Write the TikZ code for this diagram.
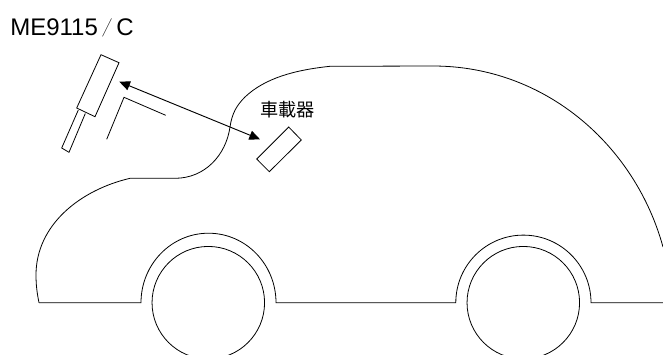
\documentclass[tikz,border=0pt]{standalone}
\usepackage{fontspec}
\usetikzlibrary{arrows.meta}
\setmainfont{Liberation Sans}
\newfontfamily\cjkfont{Noto Sans CJK JP}
\newfontfamily\slashfont[FakeStretch=0.5]{Noto Sans CJK JP}
\tikzset{
  outline/.style={draw=black,line width=0.6pt,line join=miter},
  label/.style={inner sep=0pt,anchor=west,text=black},
}
\begin{document}
\begin{tikzpicture}[x=0.75pt,y=-0.75pt]
\useasboundingbox (0,0) rectangle (663,354);
\clip (0,0) rectangle (663,354);
% car body
\draw[outline] (39,302.7) .. controls (37,293) and (36,285) .. (36,275)
  .. controls (36,225) and (80,190) .. (130,178.3)
  -- (175,178.3)
  .. controls (205,178.3) and (226,155) .. (230,127)
  .. controls (232,113) and (237,105) .. (245,97)
  .. controls (265,78) and (295,70) .. (330,66.3)
  -- (433,66)
  .. controls (545,66) and (635,145) .. (663,247);
\draw[outline] (39,302.7) -- (141,302.7) arc[start angle=180,end angle=360,x radius=67.5,y radius=69.5] -- (455.8,302.7)
  arc[start angle=180,end angle=360,radius=67.6] -- (663,302.7);
% wheels
\node[outline,circle,minimum size=84.4pt,inner sep=0pt] (wheelL) at (208.3,302.7) {};
\node[outline,circle,minimum size=84.4pt,inner sep=0pt] (wheelR) at (523.3,302.7) {};
% handheld
\draw[outline] (101,54.7) -- (119,62.7) -- (95,116.7) -- (76.7,108) -- cycle;
\draw[outline] (78.3,110) -- (61.7,148) -- (69,152.3) -- (85.3,113.5);
\draw[outline] (106.7,139.3) -- (124,97.3) -- (165.7,115.3);
% on-board unit
\draw[outline] (288.7,127) -- (301.3,140) -- (269.3,171.7) -- (256.7,159) -- cycle;
% arrow
\coordinate (handset) at (119.3,81.7);
\coordinate (unit) at (260,139.3);
\draw[line width=0.7pt,{Triangle[length=8pt,width=7pt]}-{Triangle[length=8pt,width=7pt]}] (handset) -- (unit);
% text
\node[label,font=\fontsize{18pt}{20pt}\selectfont] (model) at (10,27.5) {ME9115\hspace{3.2pt}{\slashfont\fontsize{15pt}{18pt}\selectfont ／}\hspace{3.2pt}C};
\node[label,font=\cjkfont\fontsize{13.6pt}{15pt}\selectfont] (obu) at (260,110) {車載器};
\end{tikzpicture}
\end{document}
